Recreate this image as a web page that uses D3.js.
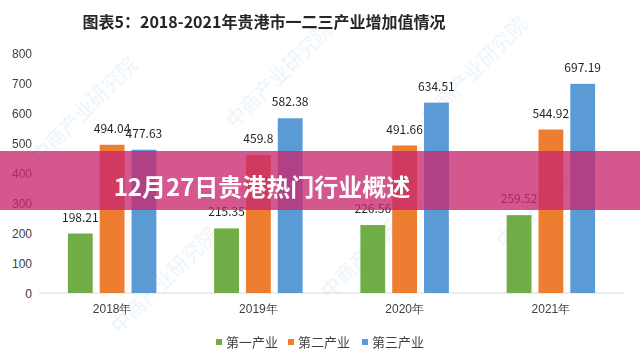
<!DOCTYPE html>
<html>
<head>
    <meta charset="utf-8">
    <style>
        body { margin: 0; background: #fff; }
        svg { display: block; font-family: "Noto Sans CJK SC", "Noto Sans", sans-serif; }
        .tick text { fill: #404040; font-size: 12px; }
    </style>
</head>
<body>
    <div id="container"></div>
    <script src="https://d3js.org/d3.v7.min.js"></script>
    <script>
        const years = ["2018年", "2019年", "2020年", "2021年"];
        const seriesNames = ["第一产业", "第二产业", "第三产业"];
        const primary = [198.21, 215.35, 226.56, 259.52];
        const secondary = [494.04, 459.8, 491.66, 544.92];
        const tertiary = [477.63, 582.38, 634.51, 697.19];
        const yTicks = [0, 100, 200, 300, 400, 500, 600, 700, 800];
        const colors = ["#70ad47", "#ed7d31", "#5b9bd5"];

        const width = 640, height = 363;
        const series = [primary, secondary, tertiary];

        const svg = d3.select("#container").append("svg")
            .attr("width", width)
            .attr("height", height);

        // faint watermarks
        const wm = svg.append("g").attr("fill", "#9cc3e6").attr("opacity", 0.2)
            .attr("font-size", 20);
        [[40, 165], [235, 130], [430, 125], [120, 335], [330, 300], [505, 250]].forEach(p => {
            wm.append("text").attr("transform", `translate(${p[0]},${p[1]}) rotate(-45)`)
                .text("中商产业研究院");
        });

        svg.append("text")
            .attr("x", 264).attr("y", 28)
            .attr("text-anchor", "middle")
            .attr("font-size", 16).attr("font-weight", "bold")
            .attr("fill", "#262626")
            .text("图表5：2018-2021年贵港市一二三产业增加值情况");

        const y = d3.scaleLinear().domain([0, 800]).range([293, 53]);
        const x0 = d3.scaleBand().domain(years).range([39, 624])
            .paddingInner(0.395).paddingOuter(0.1975);
        const x1 = d3.scaleBand().domain(d3.range(3)).range([0, x0.bandwidth()])
            .paddingInner(0.22);

        const yAxis = svg.append("g").attr("transform", "translate(32,0)")
            .call(d3.axisLeft(y).tickValues(yTicks).tickSize(0).tickPadding(0));
        yAxis.select(".domain").remove();
        yAxis.selectAll("text").attr("dy", "0.35em");

        svg.append("line")
            .attr("x1", 39).attr("x2", 624)
            .attr("y1", y(0)).attr("y2", y(0))
            .attr("stroke", "#d9d9d9");

        const xAxis = svg.append("g").attr("transform", `translate(0,${y(0) + 11})`)
            .call(d3.axisBottom(x0).tickSize(0).tickPadding(0));
        xAxis.select(".domain").remove();
        xAxis.selectAll("text").attr("dy", "0.71em");

        const groups = svg.append("g").selectAll("g")
            .data(years)
            .join("g")
            .attr("transform", d => `translate(${x0(d)},0)`);

        groups.selectAll("rect")
            .data((d, i) => series.map((s, k) => ({ k: k, v: s[i] })))
            .join("rect")
            .attr("x", d => x1(d.k))
            .attr("width", x1.bandwidth())
            .attr("y", d => y(d.v))
            .attr("height", d => y(0) - y(d.v))
            .attr("fill", d => colors[d.k]);

        groups.selectAll("text.val")
            .data((d, i) => series.map((s, k) => ({ k: k, v: s[i] })))
            .join("text")
            .attr("class", "val")
            .attr("x", d => x1(d.k) + x1.bandwidth() / 2)
            .attr("y", d => y(d.v) - 12)
            .attr("text-anchor", "middle")
            .attr("font-size", 12)
            .attr("fill", "#262626")
            .text(d => d.v);

        // legend
        const legendX = [216, 288, 362];
        const legend = svg.append("g").selectAll("g")
            .data(seriesNames)
            .join("g")
            .attr("transform", (d, i) => `translate(${legendX[i]},342)`);
        legend.append("rect").attr("x", 0).attr("y", -3).attr("width", 6).attr("height", 6)
            .attr("fill", (d, i) => colors[i]);
        legend.append("text").attr("x", 10).attr("dy", "0.35em")
            .attr("font-size", 13).attr("fill", "#404040")
            .text(d => d);

        // overlay band
        svg.append("rect")
            .attr("x", 0).attr("y", 151).attr("width", width).attr("height", 59)
            .attr("fill", "rgb(200,40,110)").attr("opacity", 0.78);
        svg.append("text")
            .attr("x", 262).attr("y", 196)
            .attr("text-anchor", "middle")
            .attr("font-size", 24).attr("font-weight", "bold")
            .attr("fill", "#fff")
            .text("12月27日贵港热门行业概述");
    </script>
</body>
</html>
